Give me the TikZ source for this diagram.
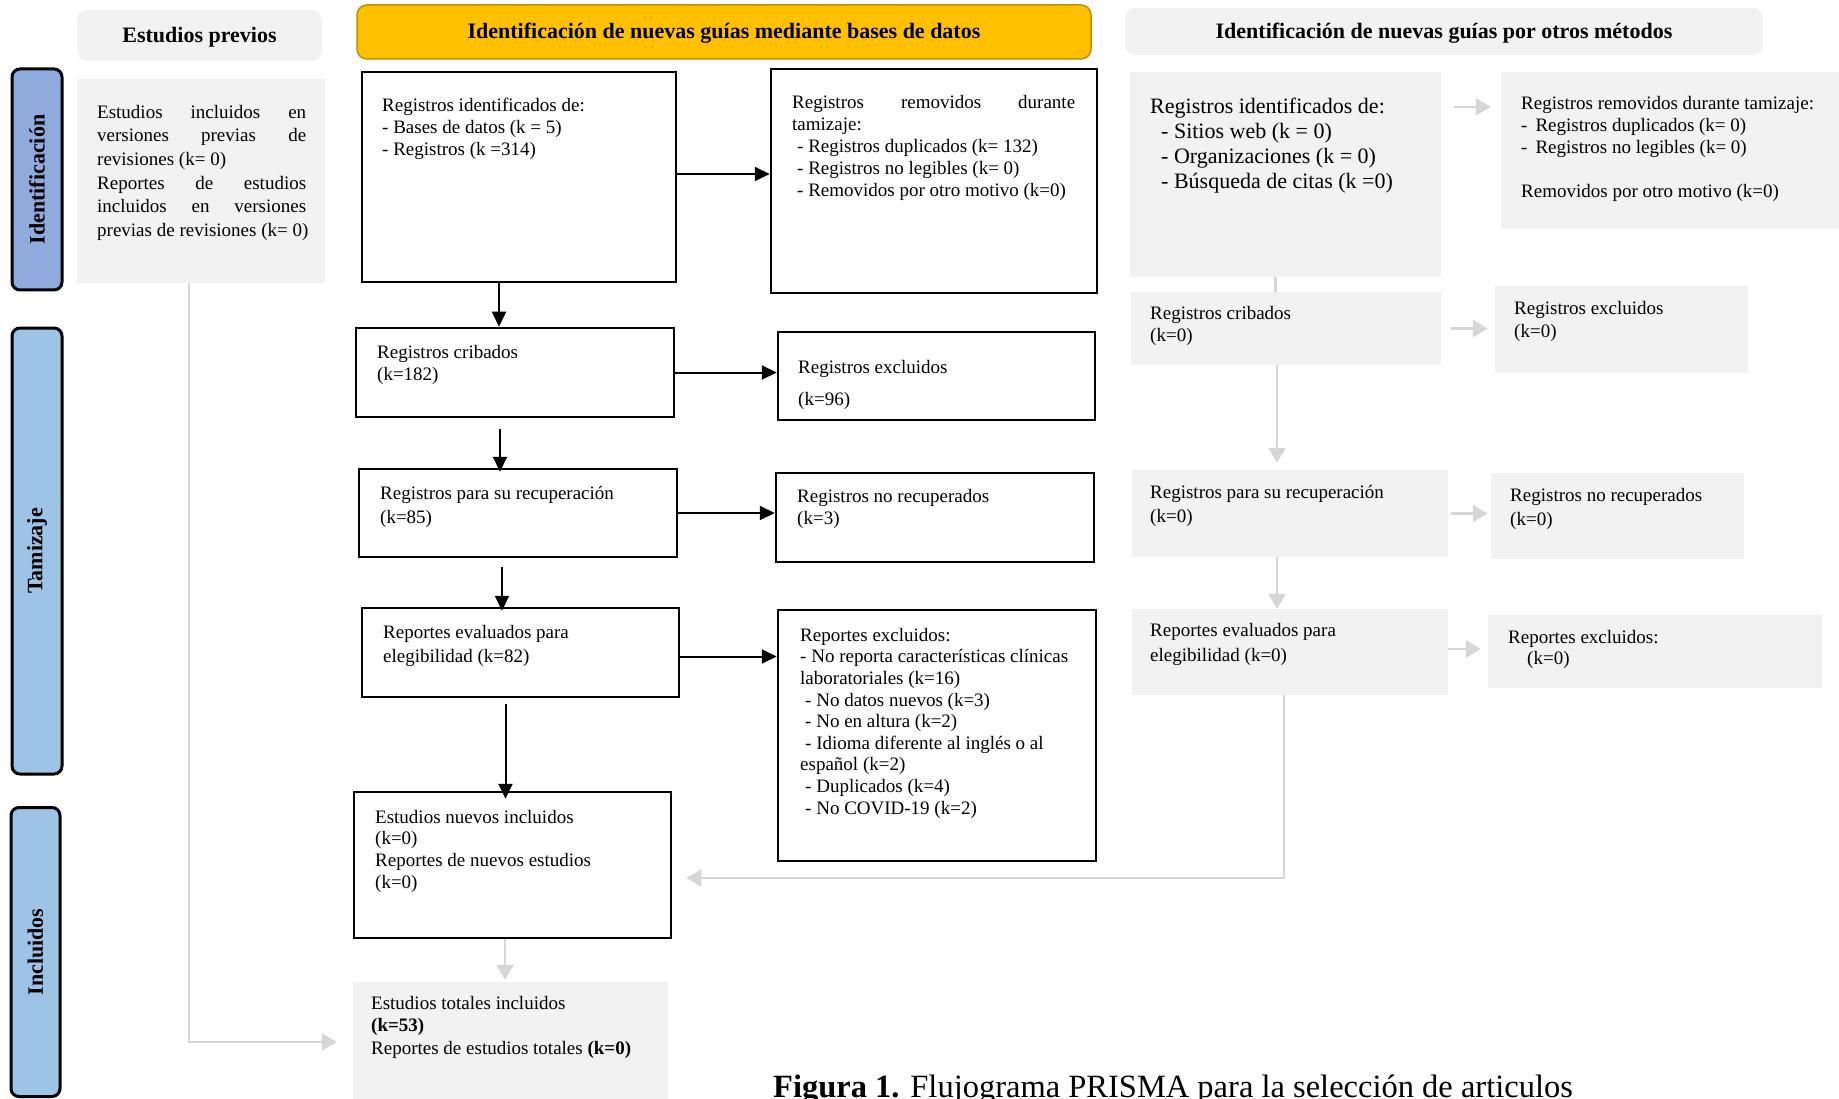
\documentclass[tikz,border=0pt]{standalone}
\usepackage{fontspec}
\setmainfont{Liberation Serif}
\usetikzlibrary{calc,arrows.meta}
\definecolor{gboxc}{HTML}{F2F2F2}
\definecolor{yel}{HTML}{FFC000}
\definecolor{yelb}{HTML}{BF9000}
\definecolor{barA}{HTML}{8FAADC}
\definecolor{barB}{HTML}{9DC3E6}
\definecolor{garrc}{HTML}{D6D6D6}
\tikzset{
  bbox/.style={draw=black, line width=2.5pt, fill=white, inner sep=0pt},
  gbox/.style={fill=gboxc, draw=none, inner sep=0pt},
  hdr/.style={rounded corners=10pt, inner sep=0pt, text height=14pt, text depth=0pt, font=\fontsize{22}{26}\selectfont\bfseries},
  sidebar/.style={draw=black, line width=3pt, rounded corners=8pt, rotate=90, inner sep=0pt, font=\fontsize{22}{26}\selectfont\bfseries},
  arr/.style={line width=2pt, -{Triangle[length=15pt,width=14pt]}},
  garr/.style={draw=garrc, line width=2.5pt, -{Triangle[length=15pt,width=17pt]}, garrc},
  gline/.style={draw=garrc, line width=2.5pt},
  txt/.style={anchor=north west, inner sep=0pt, align=left, font=\fontsize{19}{22}\selectfont},
}
\begin{document}
\begin{tikzpicture}[x=1pt,y=-1pt]
\useasboundingbox (0,0) rectangle (1839,1099);

% headers
\node[hdr, fill=gboxc, minimum width=245, minimum height=51] (hep) at (199.5,35.5) {Estudios previos};
\node[hdr, fill=yel, draw=yelb, line width=1.5pt, minimum width=734, minimum height=54] (hmid) at (724,32) {Identificación de nuevas guías mediante bases de datos};
\node[hdr, fill=gboxc, minimum width=638, minimum height=47] (hr) at (1444,31.5) {Identificación de nuevas guías por otros métodos};

% side bars
\node[sidebar, fill=barA, minimum width=221, minimum height=50] (sid) at (37,179.5) {Identificación};
\node[sidebar, fill=barB, minimum width=446, minimum height=50] (stam) at (37,551) {Tamizaje};
\node[sidebar, fill=barB, minimum width=289, minimum height=49] (sinc) at (35.5,952) {Incluidos};

% previous studies
\node[gbox, minimum width=248, minimum height=204] (ep) at (201,181) {};
\node[txt, font=\fontsize{19}{23.6}\selectfont] (tep) at (97,101.5) {\strut\makebox[209pt][s]{Estudios incluidos en}\\
\makebox[209pt][s]{versiones previas de}\\
revisiones (k= 0)\\
\makebox[209pt][s]{Reportes de estudios}\\
\makebox[209pt][s]{incluidos en versiones}\\
previas de revisiones (k= 0)};

% middle column boxes
\node[bbox, minimum width=314, minimum height=210] (b1) at (519,177) {};
\node[bbox, minimum width=326, minimum height=224] (b2) at (934,181) {};
\node[bbox, minimum width=318, minimum height=89] (b3) at (515,372.5) {};
\node[bbox, minimum width=317, minimum height=88] (b4) at (936.5,376) {};
\node[bbox, minimum width=318, minimum height=88] (b5) at (518,513) {};
\node[bbox, minimum width=318, minimum height=89] (b6) at (935,517.5) {};
\node[bbox, minimum width=317, minimum height=89] (b7) at (520.5,652.5) {};
\node[bbox, minimum width=318, minimum height=251] (b8) at (937,735.5) {};
\node[bbox, minimum width=317, minimum height=146] (b9) at (512.5,865) {};
\node[gbox, minimum width=315, minimum height=117] (b10) at (510.5,1040.5) {};

\node[txt] (t1) at (382,95.6) {\strut Registros identificados de:\\- Bases de datos (k = 5)\\- Registros (k =314)};
\node[txt] (t2) at (792,92.6) {\strut\makebox[283pt][s]{Registros removidos durante}\\tamizaje:\\
\hspace*{5pt}- Registros duplicados (k= 132)\\
\hspace*{5pt}- Registros no legibles (k= 0)\\
\hspace*{5pt}- Removidos por otro motivo (k=0)};
\node[txt] (t3) at (377,342.6) {\strut Registros cribados\\(k=182)};
\node[txt] (t4) at (798,357.6) {\strut Registros excluidos\\[10pt](k=96)};
\node[txt, font=\fontsize{19}{24}\selectfont] (t5) at (380,482.2) {\strut Registros para su recuperación\\(k=85)};
\node[txt] (t6) at (797,486.6) {\strut Registros no recuperados\\(k=3)};
\node[txt, font=\fontsize{19}{24}\selectfont] (t7) at (383,621.2) {\strut Reportes evaluados para\\elegibilidad (k=82)};
\node[txt, font=\fontsize{19}{21.6}\selectfont] (t8) at (800,625.9) {\strut Reportes excluidos:\\
- No reporta características clínicas\\
laboratoriales (k=16)\\
\hspace*{5pt}- No datos nuevos (k=3)\\
\hspace*{5pt}- No en altura (k=2)\\
\hspace*{5pt}- Idioma diferente al inglés o al\\
español (k=2)\\
\hspace*{5pt}- Duplicados (k=4)\\
\hspace*{5pt}- No COVID-19 (k=2)};
\node[txt, font=\fontsize{19}{21.7}\selectfont] (t9) at (375,807.8) {\strut Estudios nuevos incluidos\\(k=0)\\Reportes de nuevos estudios\\(k=0)};
\node[txt, font=\fontsize{19}{22.5}\selectfont] (t10) at (371,993.3) {\strut Estudios totales incluidos\\\textbf{(k=53)}\\Reportes de estudios totales \textbf{(k=0)}};

% right column boxes
\node[gbox, minimum width=311, minimum height=205] (r1) at (1285.5,174.5) {};
\node[gbox, minimum width=338, minimum height=157] (r2) at (1670,150.5) {};
\node[gbox, minimum width=310, minimum height=73] (r3) at (1286,328.5) {};
\node[gbox, minimum width=253, minimum height=87] (r4) at (1621.5,329.5) {};
\node[gbox, minimum width=316, minimum height=87] (r5) at (1290,513.5) {};
\node[gbox, minimum width=253, minimum height=86] (r6) at (1617.5,516) {};
\node[gbox, minimum width=316, minimum height=86] (r7) at (1290,652) {};
\node[gbox, minimum width=334, minimum height=73] (r8) at (1655,651.5) {};

\node[txt, font=\fontsize{22}{25}\selectfont] (tr1) at (1150,95.5) {\strut Registros identificados de:\\
\hspace*{11pt}- Sitios web (k = 0)\\
\hspace*{11pt}- Organizaciones (k = 0)\\
\hspace*{11pt}- Búsqueda de citas (k =0)};
\node[txt] (tr2) at (1521,93.6) {\strut Registros removidos durante tamizaje:\\
-\hspace*{8pt}Registros duplicados (k= 0)\\
-\hspace*{8pt}Registros no legibles (k= 0)\\
\\
Removidos por otro motivo (k=0)};
\node[txt] (tr3) at (1150,303.6) {\strut Registros cribados\\(k=0)};
\node[txt, font=\fontsize{19}{23}\selectfont] (tr4) at (1514,297.9) {\strut Registros excluidos\\(k=0)};
\node[txt, font=\fontsize{19}{24}\selectfont] (tr5) at (1150,481.2) {\strut Registros para su recuperación\\(k=0)};
\node[txt, font=\fontsize{19}{24}\selectfont] (tr6) at (1510,484.2) {\strut Registros no recuperados\\(k=0)};
\node[txt, font=\fontsize{19}{25}\selectfont] (tr7) at (1150,618.5) {\strut Reportes evaluados para\\elegibilidad (k=0)};
\node[txt, font=\fontsize{19}{21}\selectfont] (tr8) at (1508,628.3) {\strut Reportes excluidos:\\\hspace*{19pt}(k=0)};

% caption
\node[anchor=base west, inner sep=0pt, font=\fontsize{32.5}{38}\selectfont] (cap) at (773,1097) {\textbf{Figura 1.} Flujograma PRISMA para la selección de articulos};

% connector end points
\coordinate (h1) at ($(b1.east)+(0,-3)$);
\coordinate (h7) at ($(b7.east)+(0,4)$);
\coordinate (v1) at ($(b1.south)+(-20,0)$);
\coordinate (v3) at ($(b3.south)+(-15,0)$);
\coordinate (v5) at ($(b5.south)+(-16,0)$);
\coordinate (v7) at ($(b7.south)+(-15,0)$);
\coordinate (v9) at ($(b9.south)+(-7.5,0)$);
\coordinate (g1) at ($(r1.north east)+(0,35)$);
\coordinate (g7) at ($(r7.east)+(0,-3)$);
\coordinate (w1) at ($(r1.south)+(-10,0)$);
\coordinate (w3) at ($(r3.south)+(-9,0)$);
\coordinate (w5) at ($(r5.south)+(-13,0)$);
\coordinate (w7) at ($(r7.south)+(-6,0)$);
\coordinate (e9) at ($(b9.east)+(0,13)$);
\coordinate (ws) at ($(ep.south)+(-12,0)$);
\coordinate (e10) at ($(b10.west)+(0,1.5)$);

% black arrows
\draw[arr] (h1) -- (h1 -| b2.west);
\draw[arr] (b3.east) -- (b3.east -| b4.west);
\draw[arr] (b5.east) -- (b5.east -| b6.west);
\draw[arr] (h7) -- (h7 -| b8.west);
\draw[arr] (v1) -- (v1 |- b3.north);
\draw[arr, shorten <=11pt, shorten >=-4pt] (v3) -- (v3 |- b5.north);
\draw[arr, shorten <=9pt, shorten >=-4pt] (v5) -- (v5 |- b7.north);
\draw[arr, shorten <=6pt, shorten >=-8pt] (v7) -- (v7 |- b9.north);

% grey arrows
\draw[garr, shorten <=13pt, shorten >=10pt] (g1) -- (g1 -| r2.west);
\draw[garr, shorten <=10pt, shorten >=7pt] (r3.east) -- (r3.east -| r4.west);
\draw[garr, shorten <=3pt, shorten >=3pt] (r5.east) -- (r5.east -| r6.west);
\draw[garr, shorten >=7pt] (g7) -- (g7 -| r8.west);
\draw[gline] (w1) -- (w1 |- r3.north);
\draw[garr, shorten >=7pt] (w3) -- (w3 |- r5.north);
\draw[garr] (w5) -- (w5 |- r7.north);
\draw[garr, shorten >=14pt] (w7) |- (e9);
\draw[garr, shorten >=16pt] (ws) |- (e10);
\draw[garr, shorten >=2pt] (v9) -- (v9 |- b10.north);
\end{tikzpicture}
\end{document}
